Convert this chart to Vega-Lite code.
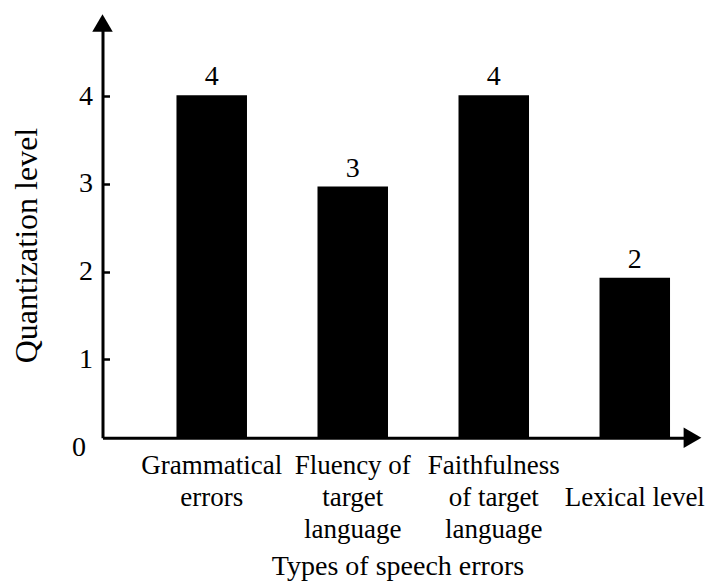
{
  "$schema": "https://vega.github.io/schema/vega-lite/v6.json",
  "autosize": "none",
  "width": 590,
  "height": 414.7,
  "padding": {"left": 102.5, "top": 23, "right": 26.5, "bottom": 149.3},
  "background": "white",
  "config": {
    "view": {"stroke": null},
    "font": "Liberation Serif",
    "axis": {"labelFont": "Liberation Serif", "titleFont": "Liberation Serif", "labelColor": "black", "titleColor": "black", "titleFontWeight": "normal"}
  },
  "data": {
    "values": [
      {"type": "Grammatical errors", "value": 4.01, "label": "4"},
      {"type": "Fluency of target language", "value": 2.97, "label": "3"},
      {"type": "Faithfulness of target language", "value": 4.01, "label": "4"},
      {"type": "Lexical level", "value": 1.93, "label": "2"}
    ]
  },
  "layer": [
    {
      "layer": [
        {
          "mark": {"type": "bar", "color": "black"},
          "encoding": {
            "x": {
              "field": "type", "type": "nominal", "sort": null,
              "scale": {"paddingInner": 0.5, "paddingOuter": 0.342, "align": 0.767},
              "axis": {
                "title": "Types of speech errors",
                "titleFontSize": 28, "titlePadding": 10,
                "labelFontSize": 27, "labelAngle": 0, "labelBaseline": "top", "labelPadding": 15,
                "labelLineHeight": 32,
                "labelExpr": "datum.label == 'Grammatical errors' ? ['Grammatical','errors'] : datum.label == 'Fluency of target language' ? ['Fluency of','target','language'] : datum.label == 'Faithfulness of target language' ? ['Faithfulness','of target','language'] : ['', 'Lexical level']",
                "ticks": false, "domainColor": "black", "domainWidth": 3, "labelOverlap": false, "labelLimit": 300
              }
            },
            "y": {
              "field": "value", "type": "quantitative",
              "scale": {"domain": [0.106, 4.835], "zero": false, "nice": false},
              "axis": {
                "title": "Quantization level",
                "titleFontSize": 32, "titlePadding": 28, "titleY": 222,
                "values": [0.106, 1, 2, 3, 4],
                "labelExpr": "datum.value < 0.5 ? '0' : format(datum.value, 'd')",
                "labelFontSize": 28, "labelPadding": 17,
                "labelOffset": {"condition": {"test": "datum.value < 0.5", "value": 10}, "value": 0},
                "tickSize": {"condition": {"test": "datum.value < 0.5", "value": 0}, "value": -7},
                "tickWidth": 2.5, "tickColor": "black",
                "domainColor": "black", "domainWidth": 3, "grid": false
              }
            },
            "y2": {"datum": 0.106}
          }
        },
        {
          "mark": {"type": "text", "fontSize": 28, "baseline": "alphabetic", "dy": -10, "color": "black", "font": "Liberation Serif"},
          "encoding": {
            "x": {"field": "type", "type": "nominal", "sort": null},
            "y": {"field": "value", "type": "quantitative"},
            "text": {"field": "label"}
          }
        }
      ]
    },
    {
      "data": {"values": [{"end": "top"}]},
      "mark": {"type": "point", "shape": "triangle-up", "size": 420, "filled": true, "color": "black", "opacity": 1},
      "encoding": {
        "x": {"datum": 0, "type": "quantitative", "scale": {"domain": [0, 1], "nice": false, "zero": false}, "axis": null},
        "y": {"datum": 4.835, "type": "quantitative"}
      }
    },
    {
      "data": {"values": [{"end": "right"}]},
      "mark": {"type": "point", "shape": "triangle-right", "size": 420, "filled": true, "color": "black", "opacity": 1},
      "encoding": {
        "x": {"datum": 1, "type": "quantitative", "scale": {"domain": [0, 1], "nice": false, "zero": false}, "axis": null},
        "y": {"datum": 0.106, "type": "quantitative"}
      }
    }
  ],
  "resolve": {"scale": {"x": "independent"}, "axis": {"x": "independent"}}
}
